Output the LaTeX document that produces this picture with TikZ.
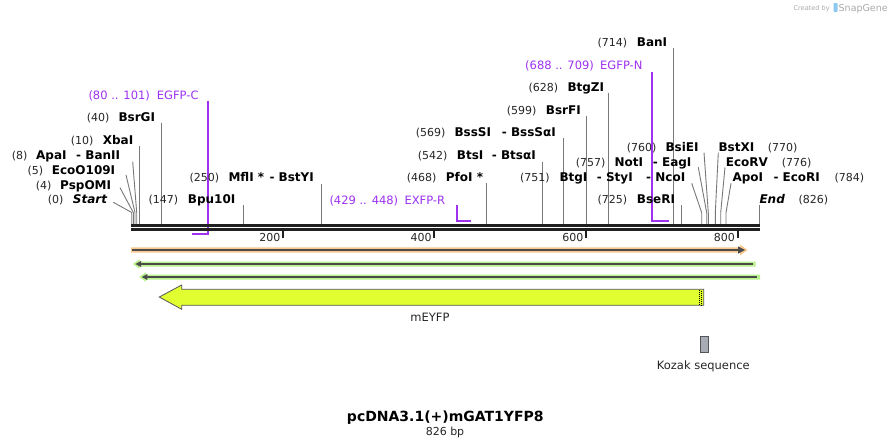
\documentclass[tikz,border=0pt]{standalone}
\usepackage{fontspec}
\setmainfont{DejaVu Sans}
\definecolor{primer}{RGB}{158,50,240}
\definecolor{cutgray}{RGB}{120,120,120}
\definecolor{bb}{RGB}{32,32,32}
\definecolor{darkline}{RGB}{75,75,75}
\definecolor{orangehalo}{RGB}{250,200,140}
\definecolor{greenhalo}{RGB}{185,242,140}
\definecolor{yfp}{RGB}{225,255,48}
\definecolor{kozak}{RGB}{168,172,180}
\definecolor{outl}{RGB}{85,85,85}
\definecolor{logogray}{RGB}{170,170,170}
\definecolor{logoblue}{RGB}{140,200,240}
\newcommand\mylab[4]{\node[#2] (#1) at (#3) {#4};}
\newcommand\vcut[3]{\coordinate (t#1) at (#2,#3); \coordinate (b#1) at (#2,224); \draw[cut] (t#1) -- (b#1);}
\newcommand\lcut[5]{\coordinate (t#1) at (#2,#3); \coordinate (k#1) at (#4,#5); \coordinate (b#1) at (#4,224); \draw[cut] (t#1) -- (k#1) -- (b#1);}
\begin{document}
\begin{tikzpicture}[x=1pt,y=-1pt,
  num/.style={anchor=base west,inner sep=0,font=\fontsize{11}{13}\selectfont,text=black!85},
  enz/.style={anchor=base west,inner sep=0,font=\fontsize{12}{14}\selectfont\bfseries},
  enzi/.style={anchor=base west,inner sep=0,font=\fontsize{12}{14}\selectfont\bfseries\itshape},
  prm/.style={anchor=base west,inner sep=0,font=\fontsize{11.5}{13}\selectfont,text=primer},
  cut/.style={draw=cutgray,line width=0.9pt},
  prline/.style={draw=primer,line width=1.8pt},
  tick/.style={draw=bb,line width=2pt},
  ticklab/.style={anchor=base east,inner sep=0,font=\fontsize{11}{13}\selectfont,text=black!85}]
\useasboundingbox[fill=white] (0,0) rectangle (891,447);

% logo
\node[anchor=base west,inner sep=0,font=\fontsize{6.6}{8}\selectfont,text=logogray] (created) at (793.3,10) {Created by};
\fill[logoblue,rounded corners=0.8pt] (833.5,3) rectangle (837.5,12);
\node[anchor=base west,inner sep=0,font=\fontsize{9.5}{11}\selectfont,text=logogray] (snapgene) at (838.5,11) {SnapGene};

% primers
\coordinate (pcT) at (208.3,100.7); \coordinate (pcK) at (208.3,234.3); \coordinate (pcE) at (191.7,234.3);
\draw[prline] (pcT) -- (pcK) -- (pcE);
\coordinate (prT) at (456.7,205); \coordinate (prK) at (456.7,220.7); \coordinate (prE) at (470.7,220.7);
\draw[prline] (prT) -- (prK) -- (prE);
\coordinate (pnT) at (652.3,71.7); \coordinate (pnK) at (652.3,220.7); \coordinate (pnE) at (669,220.7);
\draw[prline] (pnT) -- (pnK) -- (pnE);

% cut site lines
\vcut{XbaI}{139.3}{146}
\vcut{BsrGI}{161.7}{122.7}
\vcut{Bpu}{243.3}{205}
\vcut{MflI}{321.7}{184}
\vcut{PfoI}{486.3}{183.3}
\vcut{BtsI}{542.3}{161.7}
\vcut{BssSI}{563.5}{138}
\vcut{BsrFI}{586.3}{116}
\vcut{BtgZI}{608.7}{92.7}
\vcut{BanI}{673.7}{48.3}
\vcut{BseRI}{681.3}{205}
\vcut{End}{759.3}{205}
\lcut{Start}{113.3}{202.3}{131.7}{212.5}
\lcut{Psp}{120}{187.7}{133.3}{212.5}
\lcut{Eco}{126}{175}{135}{212.5}
\lcut{ApaI}{132.7}{161.7}{136.7}{212.5}
\lcut{NcoI}{691.7}{183.3}{701.7}{212.7}
\lcut{NotI}{698.3}{167.3}{706.7}{212.7}
\lcut{BsiEI}{704}{152.7}{708.3}{212.7}
\lcut{BstXI}{718.3}{152.7}{715.3}{212.7}
\lcut{EcoRV}{725}{167.3}{720.7}{212.7}
\lcut{ApoI}{731}{183.3}{726}{212.7}

% backbone
\coordinate (bbL) at (131,225.4); \coordinate (bbR) at (760,225.4);
\coordinate (bbL2) at (131,229.5); \coordinate (bbR2) at (760,229.5);
\draw[bb,line width=2.7pt] (bbL) -- (bbR);
\draw[bb,line width=2.3pt] (bbL2) -- (bbR2);

% ticks
\foreach \x/\t in {283/200,434.3/400,586/600,737.5/800}{
  \draw[tick] (\x,230) -- (\x,237.5);
  \node[ticklab] (tk\t) at (\x-2.5,241.8) {\t};
}

% labels
\mylab{n0}{num}{47.7,203.5}{(0)}
\mylab{eStart}{enzi}{72.7,203.5}{Start}
\mylab{n147}{num}{148.3,203.5}{(147)}
\mylab{eBpu}{enz}{187.7,203.5}{Bpu10I}
\mylab{nEXFP}{prm}{329.3,204.3}{(429 .. 448)}
\mylab{pEXFP}{prm}{404.3,204.3}{EXFP-R}
\mylab{n725}{num}{597.3,203.5}{(725)}
\mylab{eBseRI}{enz}{636.7,203.5}{BseRI}
\mylab{eEnd}{enzi}{759.3,203.5}{End}
\mylab{n826}{num}{798.3,203.5}{(826)}

\mylab{n250}{num}{189.3,181.3}{(250)}
\mylab{eMflI}{enz}{228.3,181.3}{MflI *}
\mylab{eBstYI}{enz}{269.3,181.3}{- BstYI}
\mylab{n468}{num}{406.7,181.3}{(468)}
\mylab{ePfoI}{enz}{445.7,181.3}{PfoI *}
\mylab{n751}{num}{520,181.3}{(751)}
\mylab{eBtgI}{enz}{559.3,181.3}{BtgI}
\mylab{eStyI}{enz}{596.7,181.3}{- StyI}
\mylab{eNcoI}{enz}{646,181.3}{- NcoI}
\mylab{eApoI}{enz}{732.3,181.3}{ApoI}
\mylab{eEcoRI}{enz}{773.3,181.3}{- EcoRI}
\mylab{n784}{num}{834.3,181.3}{(784)}

\mylab{n4}{num}{35.7,189.3}{(4)}
\mylab{ePsp}{enz}{60,189.3}{PspOMI}
\mylab{n5}{num}{27.3,174.3}{(5)}
\mylab{eEco}{enz}{51.7,174.3}{EcoO109I}

\mylab{n757}{num}{575.7,166.6}{(757)}
\mylab{eNotI}{enz}{614.3,166.6}{NotI}
\mylab{eEagI}{enz}{652.7,166.6}{- EagI}
\mylab{eEcoRV}{enz}{725.7,166.6}{EcoRV}
\mylab{n776}{num}{781.7,166.6}{(776)}

\mylab{n8}{num}{11.7,159.3}{(8)}
\mylab{eApaI}{enz}{36,159.3}{ApaI}
\mylab{eBanII}{enz}{76,159.3}{- BanII}
\mylab{n542}{num}{417.7,159.3}{(542)}
\mylab{eBtsI}{enz}{456.7,159.3}{BtsI}
\mylab{eBtsaI}{enz}{491.7,159.3}{- BtsαI}

\mylab{n760}{num}{626.7,151.6}{(760)}
\mylab{eBsiEI}{enz}{665.3,151.6}{BsiEI}
\mylab{eBstXI}{enz}{718.3,151.6}{BstXI}
\mylab{n770}{num}{767.7,151.6}{(770)}

\mylab{n10}{num}{70.7,144.3}{(10)}
\mylab{eXbaI}{enz}{102.7,144.3}{XbaI}
\mylab{n569}{num}{415.7,136}{(569)}
\mylab{eBssSI}{enz}{454.3,136}{BssSI}
\mylab{eBssSaI}{enz}{501.7,136}{- BssSαI}
\mylab{n40}{num}{86.7,121}{(40)}
\mylab{eBsrGI}{enz}{118.3,121}{BsrGI}
\mylab{n599}{num}{506.7,114.3}{(599)}
\mylab{eBsrFI}{enz}{545.7,114.3}{BsrFI}
\mylab{nEGFPC}{prm}{88.3,99.5}{(80 .. 101)}
\mylab{pEGFPC}{prm}{156.7,99.5}{EGFP-C}
\mylab{n628}{num}{528.3,91.6}{(628)}
\mylab{eBtgZI}{enz}{567.3,91.6}{BtgZI}
\mylab{nEGFPN}{prm}{525,69.5}{(688 .. 709)}
\mylab{pEGFPN}{prm}{600,69.5}{EGFP-N}
\mylab{n714}{num}{597.3,46.6}{(714)}
\mylab{eBanI}{enz}{636.7,46.6}{BanI}

% orange feature (forward)
\fill[orangehalo] (131,247.3) -- (740,247.3) -- (740,244.5) -- (747.5,250) -- (740,255.5) -- (740,252.7) -- (131,252.7) -- cycle;
\draw[darkline,line width=2pt] (132,250) -- (739,250);
\fill[darkline] (745,250) -- (738,246.3) -- (738,253.7) -- cycle;

% green feature 1 (reverse)
\fill[greenhalo] (133,264) -- (139.5,259.3) -- (139.5,261.5) -- (755.7,261.5) -- (755.7,266.5) -- (139.5,266.5) -- (139.5,268.7) -- cycle;
\draw[darkline,line width=2pt] (139,264) -- (752.5,264);
\fill[darkline] (135.5,264) -- (141,261) -- (141,267) -- cycle;

% green feature 2 (reverse)
\fill[greenhalo] (139.3,277) -- (145.8,272.3) -- (145.8,274.5) -- (760,274.5) -- (760,279.5) -- (145.8,279.5) -- (145.8,281.7) -- cycle;
\draw[darkline,line width=2pt] (145,277) -- (757,277);
\fill[darkline] (141.8,277) -- (147.3,274) -- (147.3,280) -- cycle;

% mEYFP
\draw[outl,fill=yfp,line width=0.8pt] (159.3,297) -- (181.7,285) -- (181.7,289.3) -- (703.7,289.3) -- (703.7,305.3) -- (181.7,305.3) -- (181.7,309.3) -- cycle;
\draw[black,line width=1pt,dash pattern=on 1pt off 1pt] (699.3,289.8) -- (699.3,305);
\draw[black,line width=1pt,dash pattern=on 1pt off 1pt] (701.5,290.8) -- (701.5,305);
\node[anchor=base,inner sep=0,font=\fontsize{11.5}{13}\selectfont,text=black!85] (yfplab) at (430,321.7) {mEYFP};

% Kozak
\node[draw=outl,fill=kozak,line width=0.8pt,minimum width=8.4pt,minimum height=16.7pt,inner sep=0] (koz) at (704.5,344.3) {};
\node[anchor=base,inner sep=0,font=\fontsize{11.5}{13}\selectfont,text=black!85] (kozlab) at (703.3,369.5) {Kozak sequence};

% title
\node[anchor=base,inner sep=0,font=\fontsize{14}{16}\selectfont\bfseries] (title) at (445.3,421.7) {pcDNA3.1(+)mGAT1YFP8};
\node[anchor=base,inner sep=0,font=\fontsize{11}{13}\selectfont,text=black!85] (bp) at (445,435) {826 bp};
\end{tikzpicture}
\end{document}
